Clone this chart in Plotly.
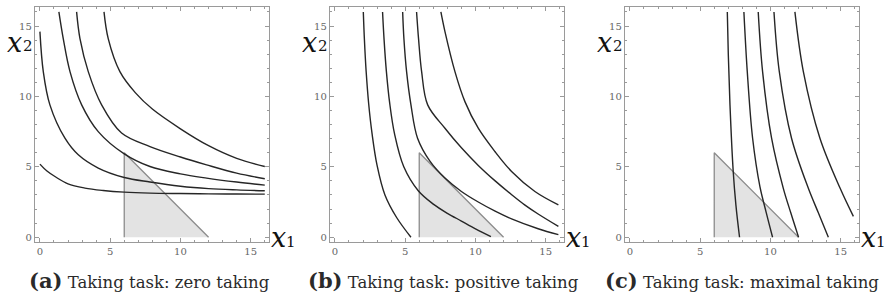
import plotly.graph_objects as go

# ---------------- data ----------------
# Panel (a): zero taking
a1_x = [0, 0.5, 1.07, 2.0, 3.2, 4.5, 6.0, 7.83, 10, 12, 14, 16]
a1_y = [5.19, 4.7, 4.31, 3.79, 3.49, 3.32, 3.2, 3.13, 3.1, 3.08, 3.07, 3.06]
a2_x = [0, 0.24, 0.71, 1.78, 2.73, 4.15, 6.0, 7.83, 10, 12, 14, 16]
a2_y = [14.6, 11.76, 9.4, 7.03, 5.85, 4.91, 4.24, 3.92, 3.62, 3.45, 3.36, 3.30]
a3_x = [1.35, 1.66, 2.14, 2.97, 4.15, 6.0, 7.83, 10, 11.86, 14, 16]
a3_y = [16, 14.1, 11.76, 9.4, 7.5, 5.92, 5.02, 4.5, 4.2, 3.92, 3.70]
a4_x = [2.61, 2.85, 3.44, 4.39, 5.81, 7.83, 10, 11.86, 14, 16]
a4_y = [16, 14.1, 11.76, 9.4, 7.4, 6.44, 5.7, 5.14, 4.55, 4.15]
a5_x = [4.56, 4.86, 5.69, 6.8, 8.0, 10, 12, 14, 16]
a5_y = [16, 14.1, 11.76, 10.25, 9.1, 7.7, 6.5, 5.6, 5.02]

# Panel (b): positive taking
b1_x = [2.02, 2.1, 2.22, 2.4, 2.65, 3.0, 3.56, 4.39, 5.41]
b1_y = [16, 14.0, 11.8, 9.5, 7.3, 5.1, 3.0, 1.4, 0.0]
b2_x = [3.39, 3.5, 3.66, 3.9, 4.25, 4.9, 5.93, 7.0, 8.0, 9.0, 10.0, 11.1]
b2_y = [16, 14.0, 11.8, 9.5, 7.3, 5.0, 3.3, 2.35, 1.7, 1.15, 0.6, 0.05]
b3_x = [4.82, 4.91, 5.1, 5.41, 5.88, 6.76, 7.83, 9.0, 10.2, 11.4, 12.57, 14.46, 15.9]
b3_y = [16, 14.1, 11.76, 9.4, 7.03, 5.4, 4.2, 3.25, 2.5, 1.85, 1.3, 0.6, 0.18]
b4_x = [5.81, 5.95, 6.17, 6.6, 7.83, 9.0, 10.2, 11.4, 12.6, 13.5, 14.46, 15.9]
b4_y = [16, 14.1, 11.76, 9.4, 7.74, 6.35, 5.1, 4.0, 3.0, 2.3, 1.65, 0.77]
b5_x = [7.54, 7.83, 8.54, 9.25, 10.2, 11.38, 12.57, 14.23, 15.9]
b5_y = [16, 14.6, 11.76, 9.63, 7.74, 6.09, 4.67, 3.25, 2.3]

# Panel (c): maximal taking
c1_x = [6.93, 7.0, 7.12, 7.35, 7.54, 7.8]
c1_y = [16, 13, 9.4, 4.67, 2.3, 0]
c2_x = [8.11, 8.35, 8.73, 9.25, 9.7, 10.15]
c2_y = [16, 11.76, 7.03, 3.6, 1.75, 0]
c3_x = [9.13, 9.44, 10.08, 10.91, 11.44, 12.0]
c3_y = [16, 11.76, 7.03, 3.49, 1.75, 0]
c4_x = [10.25, 10.63, 11.5, 12.69, 13.4, 14.12]
c4_y = [16, 11.76, 7.03, 3.49, 1.75, 0]
c5_x = [11.74, 12.34, 13.52, 14.95, 15.9]
c5_y = [16, 11.76, 7.03, 3.49, 1.48]

# Budget triangle (shared)
tri_x = [6, 6, 12]
tri_y = [0, 6, 0]

tick_vals = [0, 5, 10, 15]
panel_tags = ["(a)", "(b)", "(c)"]
panel_titles = ["Taking task: zero taking", "Taking task: positive taking",
                "Taking task: maximal taking"]

panels = [
    [(a1_x, a1_y), (a2_x, a2_y), (a3_x, a3_y), (a4_x, a4_y), (a5_x, a5_y)],
    [(b1_x, b1_y), (b2_x, b2_y), (b3_x, b3_y), (b4_x, b4_y), (b5_x, b5_y)],
    [(c1_x, c1_y), (c2_x, c2_y), (c3_x, c3_y), (c4_x, c4_y), (c5_x, c5_y)],
]

# ---------------- layout geometry ----------------
W, H = 892, 299
frame_left = [35, 330, 625]
frame_w = 234
frame_top, frame_bottom = 7, 242
frame_col = "#9a9a9a"
curve_col = "#262626"
serif = "DejaVu Serif"
math = "DejaVu Serif"

fig = go.Figure()

for i, curves in enumerate(panels):
    xa = "x" if i == 0 else f"x{i+1}"
    ya = "y" if i == 0 else f"y{i+1}"
    fig.add_trace(go.Scatter(x=tri_x, y=tri_y, fill="toself", fillcolor="#e3e3e3",
                             mode="lines", line=dict(width=0), xaxis=xa, yaxis=ya,
                             hoverinfo="skip", showlegend=False))
    fig.add_trace(go.Scatter(x=tri_x, y=tri_y, mode="lines",
                             line=dict(color="#8c8c8c", width=1.3), xaxis=xa, yaxis=ya,
                             hoverinfo="skip", showlegend=False))
    for cx, cy in curves:
        fig.add_trace(go.Scatter(x=cx, y=cy, mode="lines",
                                 line=dict(color=curve_col, width=1.4, shape="spline", smoothing=1.0),
                                 xaxis=xa, yaxis=ya, showlegend=False))

axis_common = dict(
    showline=True, linecolor=frame_col, linewidth=1.3, mirror="ticks",
    ticks="inside", ticklen=4, tickwidth=1, tickcolor=frame_col,
    tickmode="array", tickvals=tick_vals,
    minor=dict(tickmode="linear", tick0=0, dtick=1, ticks="inside", ticklen=2,
               tickcolor=frame_col, showgrid=False),
    showgrid=False, zeroline=False, fixedrange=True,
    tickfont=dict(family=serif, size=10, color="#666"),
)

layout = dict(width=W, height=H, margin=dict(l=0, r=0, t=0, b=0),
              paper_bgcolor="white", plot_bgcolor="white", showlegend=False)

ydom = [(H - frame_bottom) / H, (H - frame_top) / H]
annotations = []
for i in range(3):
    sx = "" if i == 0 else str(i + 1)
    l = frame_left[i]
    layout[f"xaxis{sx}"] = dict(axis_common, domain=[l / W, (l + frame_w) / W],
                                range=[-0.35, 16.3], anchor=f"y{sx}")
    layout[f"yaxis{sx}"] = dict(axis_common, domain=ydom,
                                range=[-0.34, 16.35], anchor=f"x{sx}")
    off = l - 35
    # x2 label
    annotations.append(dict(text="<i>x</i>", x=(14 + off) / W, y=(H - 42) / H, xref="paper", yref="paper",
                            showarrow=False, font=dict(family=math, size=27, color="#111"),
                            xanchor="center", yanchor="middle"))
    annotations.append(dict(text="2", x=(28 + off) / W, y=(H - 46) / H, xref="paper", yref="paper",
                            showarrow=False, font=dict(family=math, size=15, color="#111"),
                            xanchor="center", yanchor="middle"))
    # x1 label
    annotations.append(dict(text="<i>x</i>", x=(278 + off) / W, y=(H - 237) / H, xref="paper", yref="paper",
                            showarrow=False, font=dict(family=math, size=27, color="#111"),
                            xanchor="center", yanchor="middle"))
    annotations.append(dict(text="1", x=(291 + off) / W, y=(H - 242) / H, xref="paper", yref="paper",
                            showarrow=False, font=dict(family=math, size=15, color="#111"),
                            xanchor="center", yanchor="middle"))
    # caption
    cx = [149, 443, 742][i]
    annotations.append(dict(
        text=f"<b><span style='font-size:21px'>{panel_tags[i]}</span></b> {panel_titles[i]}",
        x=cx / W, y=(H - 280) / H, xref="paper", yref="paper", showarrow=False,
        font=dict(family=serif, size=16.5, color="#2a2a2a"), xanchor="center", yanchor="middle"))

layout["annotations"] = annotations
fig.update_layout(**layout)
fig.write_html("out.html", config={"displayModeBar": False},
               post_script="document.body.style.margin='0px';document.body.style.overflow='hidden';")
